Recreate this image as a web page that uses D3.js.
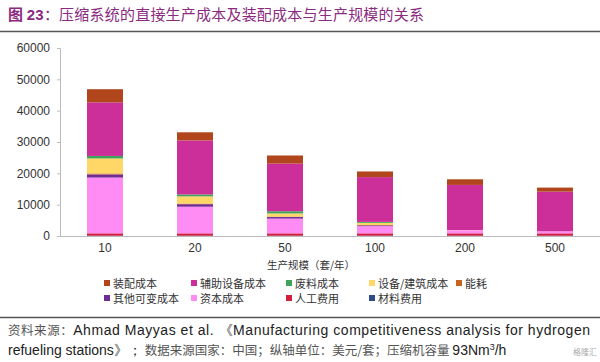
<!DOCTYPE html>
<html>
<head>
<meta charset="utf-8">
<script src="https://cdn.jsdelivr.net/npm/d3@7"></script>
<style>
  body { margin: 0; background: #fff; }
  svg { display: block; }
</style>
</head>
<body>
<script>
const width = 600;
const height = 362;

const scales = ['10', '20', '50', '100', '200', '500'];

// stacked from bottom to top
const materialCost = [100, 100, 100, 100, 100, 100];
const laborCost = [750, 750, 750, 750, 750, 750];
const capitalCost = [17800, 8500, 4700, 2300, 1000, 650];
const otherVariable = [1000, 800, 500, 250, 0, 0];
const energyCost = [300, 200, 150, 100, 0, 0];
const equipBuilding = [4800, 2300, 1000, 700, 50, 0];
const scrapCost = [800, 600, 700, 300, 0, 0];
const auxEquipment = [17100, 17250, 15200, 14300, 14400, 12650];
const assemblyCost = [4200, 2600, 2600, 1800, 1800, 1300];

const yTicks = [0, 10000, 20000, 30000, 40000, 50000, 60000];

const series = [
  { key: 'material', name: '材料费用', color: '#2f4b8a', values: materialCost },
  { key: 'labor', name: '人工费用', color: '#d41d3f', values: laborCost },
  { key: 'capital', name: '资本成本', color: '#ff8cf5', values: capitalCost },
  { key: 'other', name: '其他可变成本', color: '#6f2b96', values: otherVariable },
  { key: 'energy', name: '能耗', color: '#c8621c', values: energyCost },
  { key: 'equip', name: '设备/建筑成本', color: '#ffd766', values: equipBuilding },
  { key: 'scrap', name: '废料成本', color: '#3fa45a', values: scrapCost },
  { key: 'aux', name: '辅助设备成本', color: '#cc2e9a', values: auxEquipment },
  { key: 'assembly', name: '装配成本', color: '#b1461d', values: assemblyCost }
];

const legendOrder = ['assembly', 'aux', 'scrap', 'equip', 'energy', 'other', 'capital', 'labor', 'material'];

const rows = scales.map((s, i) => {
  const r = { scale: s };
  series.forEach(d => { r[d.key] = d.values[i]; });
  return r;
});

const svg = d3.select('body').append('svg')
  .attr('width', width)
  .attr('height', height);

// title
const title = svg.append('text')
  .attr('x', 8)
  .attr('y', 20)
  .attr('fill', '#8a2a80')
  .attr('textLength', 416)
  .style('font-family', '"Noto Sans CJK SC", sans-serif')
  .style('font-size', '15px');
title.append('tspan').style('font-weight', 'bold').text('图 ');
title.append('tspan').style('font-weight', 'bold').style('font-family', 'Arial, "Liberation Sans", sans-serif').text('23');
title.append('tspan').text('：压缩系统的直接生产成本及装配成本与生产规模的关系');

svg.append('line')
  .attr('x1', 0).attr('x2', width)
  .attr('y1', 31.5).attr('y2', 31.5)
  .attr('stroke', '#555').attr('stroke-width', 1.5);

const x = d3.scaleBand()
  .domain(scales)
  .range([60, 600])
  .paddingInner(0.6)
  .paddingOuter(0.3);

const y = d3.scaleLinear()
  .domain([0, 60000])
  .range([236, 48]);

const stack = d3.stack().keys(series.map(d => d.key));
const stacked = stack(rows);

svg.append('g')
  .selectAll('g')
  .data(stacked)
  .enter().append('g')
    .attr('fill', d => series.find(s => s.key === d.key).color)
  .selectAll('rect')
  .data(d => d)
  .enter().append('rect')
    .attr('x', d => x(d.data.scale))
    .attr('y', d => y(d[1]))
    .attr('width', x.bandwidth())
    .attr('height', d => y(d[0]) - y(d[1]));

// y axis
const yAxis = svg.append('g')
  .attr('transform', 'translate(60,0)')
  .call(d3.axisLeft(y).tickValues(yTicks).tickSize(3).tickPadding(7).tickFormat(d3.format('d')));
yAxis.select('.domain').attr('stroke', '#bbb');
yAxis.selectAll('.tick line').attr('stroke', '#bbb');
yAxis.selectAll('text')
  .attr('fill', '#333')
  .style('font-family', 'Arial, "Liberation Sans", sans-serif')
  .style('font-size', '12px');

// x axis
const xAxis = svg.append('g')
  .attr('transform', 'translate(0,236)')
  .call(d3.axisBottom(x).tickSize(0).tickPadding(7));
xAxis.select('.domain').attr('stroke', '#bbb').attr('d', 'M60,0.5H600');
xAxis.selectAll('text')
  .attr('fill', '#333')
  .style('font-family', 'Arial, "Liberation Sans", sans-serif')
  .style('font-size', '12px');

svg.append('text')
  .attr('x', 311)
  .attr('y', 269)
  .attr('text-anchor', 'middle')
  .attr('fill', '#333')
  .style('font-family', '"Noto Sans CJK SC", sans-serif')
  .style('font-size', '10.5px')
  .text('生产规模（套/年）');

// legend
const legendX = [104, 191, 286, 369, 456];
const legendY = [284, 299];
const legend = svg.append('g');
legendOrder.forEach((k, i) => {
  const s = series.find(d => d.key === k);
  const col = i < 5 ? i : i - 5;
  const row = i < 5 ? 0 : 1;
  const g = legend.append('g')
    .attr('transform', `translate(${legendX[col]},${legendY[row]})`);
  g.append('rect')
    .attr('x', 0).attr('y', -4)
    .attr('width', 6).attr('height', 6)
    .attr('fill', s.color);
  g.append('text')
    .attr('x', 9).attr('y', 3.5)
    .attr('fill', '#333')
    .style('font-family', '"Noto Sans CJK SC", sans-serif')
    .style('font-size', '11px')
    .text(s.name);
});

// footer
svg.append('line')
  .attr('x1', 0).attr('x2', width)
  .attr('y1', 317.5).attr('y2', 317.5)
  .attr('stroke', '#555').attr('stroke-width', 1.5);

const foot1 = svg.append('text')
  .attr('x', 8).attr('y', 335)
  .attr('fill', '#222')
  .attr('textLength', 582)
  .style('font-family', 'Arial, "Liberation Sans", sans-serif')
  .style('font-size', '14px');
foot1.append('tspan').attr('fill', '#555').style('font-family', '"Noto Sans CJK SC", sans-serif').style('font-size', '12.5px').text('资料来源：');
foot1.append('tspan').text('Ahmad Mayyas et al. 《Manufacturing competitiveness analysis for hydrogen');

const foot2 = svg.append('text')
  .attr('x', 8).attr('y', 355)
  .attr('fill', '#222')
  .style('font-family', 'Arial, "Liberation Sans", sans-serif')
  .style('font-size', '14px');
foot2.append('tspan').text('refueling stations》；');
foot2.append('tspan').attr('fill', '#555').style('font-family', '"Noto Sans CJK SC", sans-serif').style('font-size', '12.5px').text(' 数据来源国家：中国；纵轴单位：美元/套；压缩机容量 ');
foot2.append('tspan').text('93Nm');
foot2.append('tspan').attr('dy', -5).style('font-size', '9px').text('3');
foot2.append('tspan').attr('dy', 5).text('/h');

svg.append('text')
  .attr('x', 597).attr('y', 355)
  .attr('text-anchor', 'end')
  .attr('fill', '#aaa')
  .style('font-family', '"Noto Sans CJK SC", sans-serif')
  .style('font-size', '8px')
  .text('格隆汇');
</script>
</body>
</html>
